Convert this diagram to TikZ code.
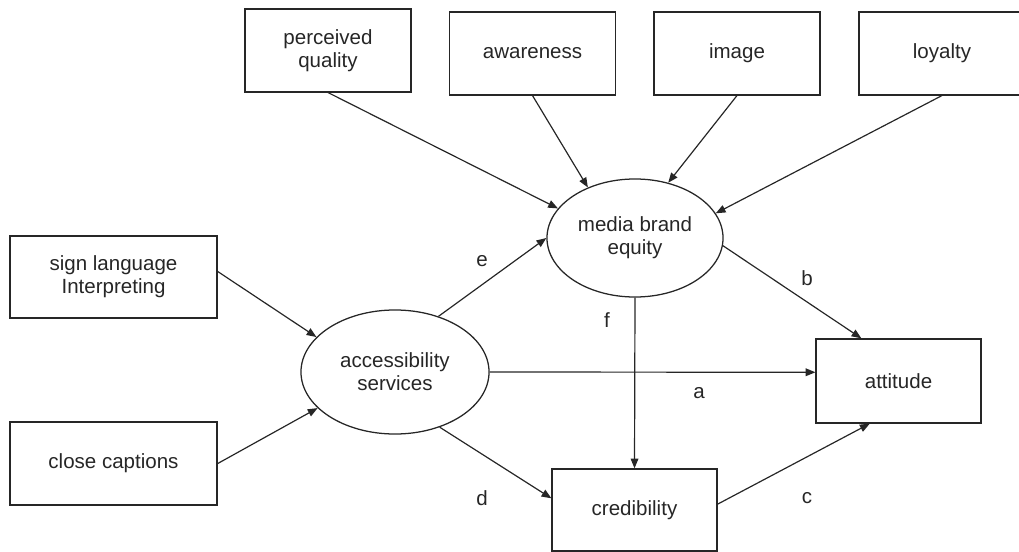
\documentclass[tikz,border=0pt]{standalone}
\usepackage{fontspec}
\setmainfont{Liberation Sans}
\usetikzlibrary{shapes.geometric,arrows.meta}
\tikzset{
  varbox/.style={draw, rectangle, line width=0.9pt, minimum width=4.15cm, minimum height=2.07cm, align=center, inner sep=0pt},
  latent/.style={draw, ellipse, line width=0.9pt, align=center, inner sep=0pt},
  path/.style={line width=0.85pt, -{Triangle[length=7pt,width=5.5pt]}},
  lab/.style={inner sep=0pt}
}
\begin{document}
\begin{tikzpicture}[x=0.025cm, y=-0.025cm, font=\fontsize{14.6}{16.3}\selectfont, color=black!85]
      \useasboundingbox (0,0) rectangle (1019,552);
      \clip (0,0) rectangle (1019,552);

      % brand equity dimensions
      \node (qual) at (328,50.5) [varbox] {perceived\\quality};
      \node (aware) at (532.5,53.5) [varbox] {awareness};
      \node (img) at (737,53.5) [varbox] {image};
      \node (loyal) at (942,53.5) [varbox] {loyalty};

      % accessibility indicators
      \node (sign) at (113.5,277) [varbox, minimum width=5.18cm, minimum height=2.05cm] {sign language\\Interpreting};
      \node (capt) at (113.5,463.5) [varbox, minimum width=5.18cm, minimum height=2.07cm] {close captions};

      % latent variables
      \node (acc) at (395,372) [latent, minimum width=4.7cm, minimum height=3.1cm] {accessibility\\services};
      \node (mbe) at (635,238) [latent, minimum width=4.4cm, minimum height=2.95cm] {media brand\\equity};

      % outcomes
      \node (att) at (898.5,381) [varbox, minimum width=4.12cm, minimum height=2.1cm] {attitude};
      \node (cred) at (634.5,510) [varbox, minimum width=4.12cm, minimum height=2.05cm] {credibility};

      \draw[path] (qual.south) to (mbe.159);
      \draw[path] (aware.south) to (mbe.133);
      \draw[path] (img.south) to (mbe.59);
      \draw[path] (loyal.south) to (mbe.17);

      \draw[path] (sign.3) to (acc.156);
      \draw[path] (capt.east) to (acc.205);

      \draw[path] (acc.52) to (mbe.west);
      \draw[path] (acc.east) to (att.174);
      \draw[path] (acc.-51) to (cred.172);
      \draw[path] (mbe.-5) to (att.131);
      \draw[path] (mbe.south) to (cred.north);
      \draw[path] (cred.4) to (att.236);

      \node (le) at (482,261) [lab] {e};
      \node (lf) at (607,320) [lab] {f};
      \node (lb) at (807,278) [lab] {b};
      \node (la) at (699,393) [lab] {a};
      \node (ld) at (482,498) [lab] {d};
      \node (lc) at (807,498) [lab] {c};
    \end{tikzpicture}
\end{document}
